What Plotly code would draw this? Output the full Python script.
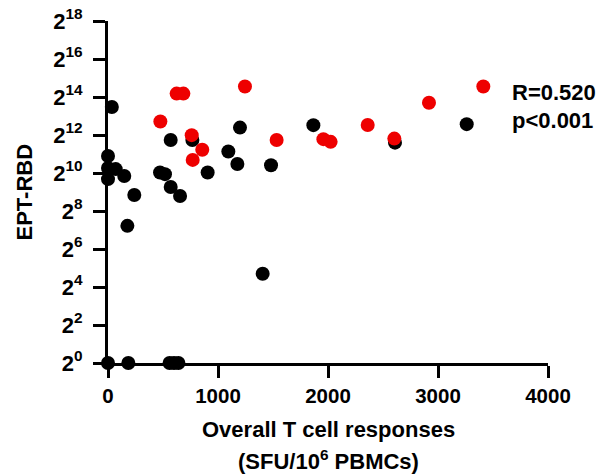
import math
import plotly.graph_objects as go

# Overall T cell responses (SFU per 10^6 PBMCs) and EPT-RBD titers
black_x = [0, 35, 0, 70, 0, 148, 239, 176, 473, 518, 570, 655, 570, 767,
           1200, 1094, 1176, 1482, 906, 1867, 2609, 3261, 1406,
           0, 185, 560, 600, 640]
black_y = [1900, 11400, 1230, 1180, 820, 920, 458, 149, 1045, 982, 613, 443,
           3420, 3420, 5370, 2240, 1420, 1360, 1045, 5870, 3100, 6080, 26,
           1, 1, 1, 1, 1]

red_x = [476, 761, 770, 857, 624, 685, 1245, 1533, 1958, 2024, 2361, 2603,
         2918, 3412]
red_y = [6700, 4070, 1650, 2390, 18560, 18560, 23970, 3420, 3520, 3190,
         5910, 3590, 13300, 23970]

y_exponents = list(range(0, 19, 2))
y_tickvals = [2 ** k for k in y_exponents]
y_ticktext = [f"<b>2<sup>{k}</sup></b>" for k in y_exponents]

x_tickvals = [0, 1000, 2000, 3000, 4000]
x_ticktext = [f"<b>{v}</b>" for v in x_tickvals]

stats_text = ["R=0.520", "p<0.001"]
stats_pos = [(3655, 2 ** 14.25), (3655, 2 ** 12.77)]

x_title_lines = ["Overall T cell responses", "(SFU/10<sup>6</sup> PBMCs)"]
y_title = "EPT-RBD"

FONT = "Liberation Sans, Arial, sans-serif"

fig = go.Figure()
fig.add_trace(go.Scatter(
    x=black_x, y=black_y, mode="markers", cliponaxis=False,
    marker=dict(color="black", size=14, line=dict(width=0)),
    showlegend=False,
))
fig.add_trace(go.Scatter(
    x=red_x, y=red_y, mode="markers", cliponaxis=False,
    marker=dict(color="#ee0000", size=14, line=dict(width=0)),
    showlegend=False,
))

# correlation statistics (annotation y on a log axis is given in log10 units)
for t, (ax, ay) in zip(stats_text, stats_pos):
    fig.add_annotation(
        x=ax, y=math.log10(ay), xref="x", yref="y", text=f"<b>{t}</b>",
        showarrow=False, xanchor="left", yanchor="middle",
        font=dict(family=FONT, size=22, color="black"),
    )

# axis titles
for line, py in zip(x_title_lines, [-0.193, -0.283]):
    fig.add_annotation(
        x=0.5, y=py, xref="paper", yref="paper", text=f"<b>{line}</b>",
        showarrow=False, xanchor="center", yanchor="middle",
        font=dict(family=FONT, size=22, color="black"),
    )
fig.add_annotation(
    x=-0.192, y=0.5, xref="paper", yref="paper", text=f"<b>{y_title}</b>",
    textangle=-90, showarrow=False, xanchor="center", yanchor="middle",
    font=dict(family=FONT, size=22, color="black"),
)

fig.update_layout(
    width=608, height=475,
    margin=dict(l=108, r=60, t=21, b=112),
    paper_bgcolor="white", plot_bgcolor="white",
    font=dict(family=FONT, color="black"),
    xaxis=dict(
        range=[0, 4000], tickvals=x_tickvals, ticktext=x_ticktext,
        automargin=False,
        showgrid=False, zeroline=False,
        showline=True, linecolor="black", linewidth=3,
        ticks="outside", ticklen=12, tickwidth=3, tickcolor="black",
        tickfont=dict(family=FONT, size=20.5, color="black"),
    ),
    yaxis=dict(
        type="log", range=[0, 18 * math.log10(2)],
        tickvals=y_tickvals, ticktext=y_ticktext,
        automargin=False,
        showgrid=False, zeroline=False,
        showline=True, linecolor="black", linewidth=3,
        ticks="outside", ticklen=12, tickwidth=3, tickcolor="black",
        tickfont=dict(family=FONT, size=22, color="black"),
        ticklabelstandoff=6,
    ),
)

fig.write_html("out.html")
